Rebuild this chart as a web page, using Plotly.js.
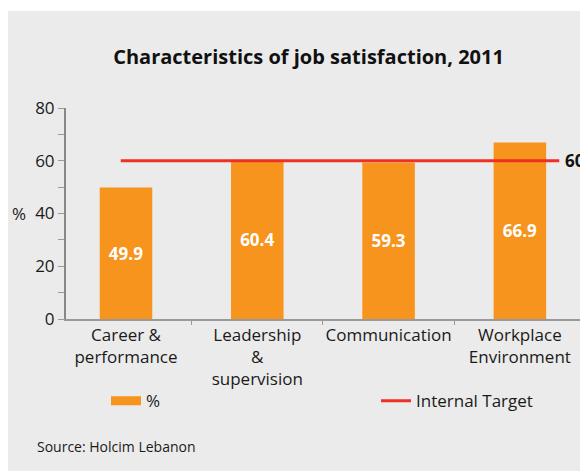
<!DOCTYPE html>
<html>
<head>
<meta charset="utf-8">
<script src="https://cdn.plot.ly/plotly-3.0.1.min.js"></script>
<style>
  html, body { margin: 0; padding: 0; background: #ffffff; }
  #bg { position: absolute; left: 8px; top: 11px; width: 572px; height: 460px; background: #ebebeb; }
  #chart { position: absolute; left: 0; top: 0; width: 580px; height: 471px; }
</style>
</head>
<body>
<div id="bg"></div>
<div id="chart"></div>
<script>
const categories = ["Career &<br>performance", "Leadership<br>&<br>supervision", "Communication", "Workplace<br>Environment"];
const values = [49.9, 60.4, 59.3, 66.9];
const valueLabels = ["49.9", "60.4", "59.3", "66.9"];
const targetValue = 60;
const targetLabel = "60";
const yTickVals = [0, 20, 40, 60, 80];

const xIdx = categories.map((_, i) => i);
const FONT = "'Open Sans', Lato, sans-serif";

const traces = [
  {
    type: "bar",
    x: xIdx,
    y: values,
    width: 0.4,
    marker: { color: "#f7941d" },
    text: valueLabels,
    textposition: "inside",
    insidetextanchor: "middle",
    textfont: { color: "#ffffff", size: 17, family: FONT, weight: "bold" },
    showlegend: false,
    hoverinfo: "skip"
  },
  {
    type: "scatter",
    mode: "lines",
    x: [null],
    y: [null],
    name: "%",
    line: { color: "#f7941d", width: 9 },
    showlegend: true,
    legend: "legend"
  },
  {
    type: "scatter",
    mode: "lines",
    x: [-0.04, xIdx[xIdx.length - 1] + 0.3],
    y: [targetValue, targetValue],
    name: "Internal Target",
    line: { color: "#ee3124", width: 3 },
    legend: "legend2"
  }
];

const legendCommon = {
  orientation: "h",
  yanchor: "middle",
  y: -0.39,
  bgcolor: "rgba(0,0,0,0)",
  font: { size: 17, family: FONT, color: "#1a1a1a" }
};

const layout = {
  width: 580,
  height: 471,
  paper_bgcolor: "rgba(0,0,0,0)",
  plot_bgcolor: "rgba(0,0,0,0)",
  margin: { l: 66, r: 0, t: 108, b: 152 },
  font: { family: FONT, color: "#1a1a1a", size: 17 },
  title: {
    text: "<b>Characteristics of job satisfaction, 2011</b>",
    font: { family: FONT, size: 20, color: "#111111" },
    x: 0.532, xanchor: "center",
    y: 0.878, yanchor: "middle"
  },
  xaxis: {
    range: [-0.457, 3.458],
    tickvals: xIdx,
    ticktext: categories,
    ticks: "",
    showgrid: false,
    zeroline: false,
    showline: true,
    linecolor: "#999999",
    linewidth: 1.5,
    tickfont: { size: 17, family: FONT, color: "#1a1a1a" },
    minor: { tickvals: [0.5, 1.5, 2.5], ticks: "outside", ticklen: 4, tickcolor: "#999999", tickwidth: 1 },
    fixedrange: true
  },
  yaxis: {
    range: [0, 80],
    tickvals: yTickVals,
    ticks: "outside",
    ticklen: 6,
    tickcolor: "#999999",
    tickwidth: 1,
    showgrid: false,
    zeroline: false,
    showline: true,
    linecolor: "#888888",
    linewidth: 2,
    tickfont: { size: 17, family: FONT, color: "#1a1a1a" },
    minor: { tickvals: [10, 30, 50, 70], ticks: "outside", ticklen: 6, tickcolor: "#999999", tickwidth: 1 },
    fixedrange: true
  },
  legend: Object.assign({}, legendCommon, { x: (106 - 66) / 514, xanchor: "left" }),
  legend2: Object.assign({}, legendCommon, { x: (376 - 66) / 514, xanchor: "left" }),
  annotations: [
    {
      text: "%", xref: "paper", yref: "paper",
      x: (19 - 66) / 514, y: 0.5, xanchor: "center", yanchor: "middle",
      showarrow: false, font: { size: 17, family: FONT, color: "#1a1a1a" }
    },
    {
      text: "<b>" + targetLabel + "</b>", xref: "paper", yref: "y",
      x: (563 - 66) / 514, y: targetValue, xanchor: "left", yanchor: "middle",
      showarrow: false, font: { size: 17, family: FONT, color: "#111111" }
    },
    {
      text: "Source: Holcim Lebanon", xref: "paper", yref: "paper",
      x: (35 - 66) / 514, y: -(446 - 319) / 211, xanchor: "left", yanchor: "middle",
      showarrow: false, font: { size: 14, family: FONT, color: "#1a1a1a" }
    }
  ]
};

Plotly.newPlot("chart", traces, layout, { displayModeBar: false, staticPlot: true });
</script>
</body>
</html>
